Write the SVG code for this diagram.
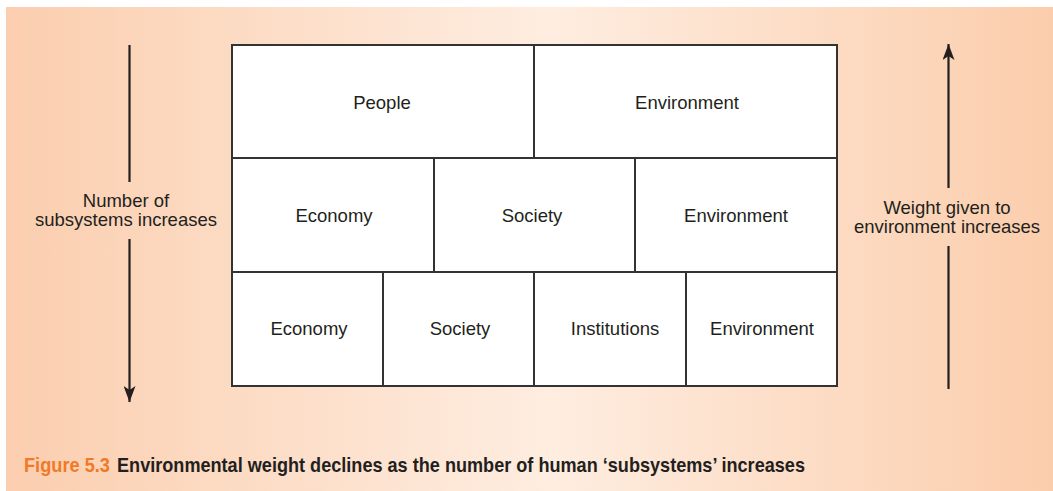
<svg xmlns="http://www.w3.org/2000/svg" width="1053" height="491" viewBox="0 0 1053 491">
  <defs>
    <linearGradient id="bg" x1="0" y1="0" x2="1" y2="0">
      <stop offset="0" stop-color="#FBCEAF"/>
      <stop offset="0.52" stop-color="#FEEDE0"/>
      <stop offset="1" stop-color="#FBCDAC"/>
    </linearGradient>
    <marker id="ah" viewBox="0 0 16 12" refX="16" refY="6" markerWidth="16" markerHeight="12" markerUnits="userSpaceOnUse" orient="auto">
      <path d="M0,0 L16,6 L0,12 L4,6 Z" fill="#231F20"/>
    </marker>
    <style>
      .cell { fill: #FFFFFF; stroke: #333333; stroke-width: 2; }
      .lbl { font-family: "Liberation Sans", Arial, sans-serif; font-size: 18.5px; fill: #231F20; text-anchor: middle; }
      .conn { stroke: #231F20; stroke-width: 2.2; fill: none; }
      .cap { font-family: "Liberation Sans Narrow", "Liberation Sans", Arial, sans-serif; font-weight: bold; font-size: 20.5px; }
    </style>
  </defs>
  <rect x="0" y="0" width="1053" height="491" fill="#FFFFFF"/>
  <rect x="6" y="7" width="1047" height="484" fill="url(#bg)"/>

  <g id="row1-people"><rect class="cell" x="232" y="45" width="302" height="113"/><text class="lbl" x="382" y="109">People</text></g>
  <g id="row1-environment"><rect class="cell" x="534" y="45" width="303" height="113"/><text class="lbl" x="687" y="109">Environment</text></g>

  <g id="row2-economy"><rect class="cell" x="232" y="158" width="202" height="114"/><text class="lbl" x="334" y="222">Economy</text></g>
  <g id="row2-society"><rect class="cell" x="434" y="158" width="201" height="114"/><text class="lbl" x="532" y="222">Society</text></g>
  <g id="row2-environment"><rect class="cell" x="635" y="158" width="202" height="114"/><text class="lbl" x="736" y="222">Environment</text></g>

  <g id="row3-economy"><rect class="cell" x="232" y="272" width="151" height="114"/><text class="lbl" x="309" y="335">Economy</text></g>
  <g id="row3-society"><rect class="cell" x="383" y="272" width="151" height="114"/><text class="lbl" x="460" y="335">Society</text></g>
  <g id="row3-institutions"><rect class="cell" x="534" y="272" width="152" height="114"/><text class="lbl" x="615" y="335">Institutions</text></g>
  <g id="row3-environment"><rect class="cell" x="686" y="272" width="151" height="114"/><text class="lbl" x="762" y="335">Environment</text></g>

  <g id="connectors">
    <line class="conn" x1="129.5" y1="45" x2="129.5" y2="182"/>
    <line class="conn" x1="129.5" y1="239" x2="129.5" y2="402" marker-end="url(#ah)"/>
    <line class="conn" x1="948.5" y1="188" x2="948.5" y2="44" marker-end="url(#ah)"/>
    <line class="conn" x1="948.5" y1="389" x2="948.5" y2="246"/>
  </g>

  <g id="label-left">
    <text class="lbl" x="126" y="207">Number of</text>
    <text class="lbl" x="126" y="226">subsystems increases</text>
  </g>
  <g id="label-right">
    <text class="lbl" x="947" y="214">Weight given to</text>
    <text class="lbl" x="947" y="233">environment increases</text>
  </g>

  <g id="caption">
    <text class="cap" x="24" y="472" fill="#F07A28" textLength="86" lengthAdjust="spacingAndGlyphs">Figure 5.3</text>
    <text class="cap" x="117" y="472" fill="#231F20" textLength="688" lengthAdjust="spacingAndGlyphs">Environmental weight declines as the number of human ‘subsystems’ increases</text>
  </g>
</svg>
